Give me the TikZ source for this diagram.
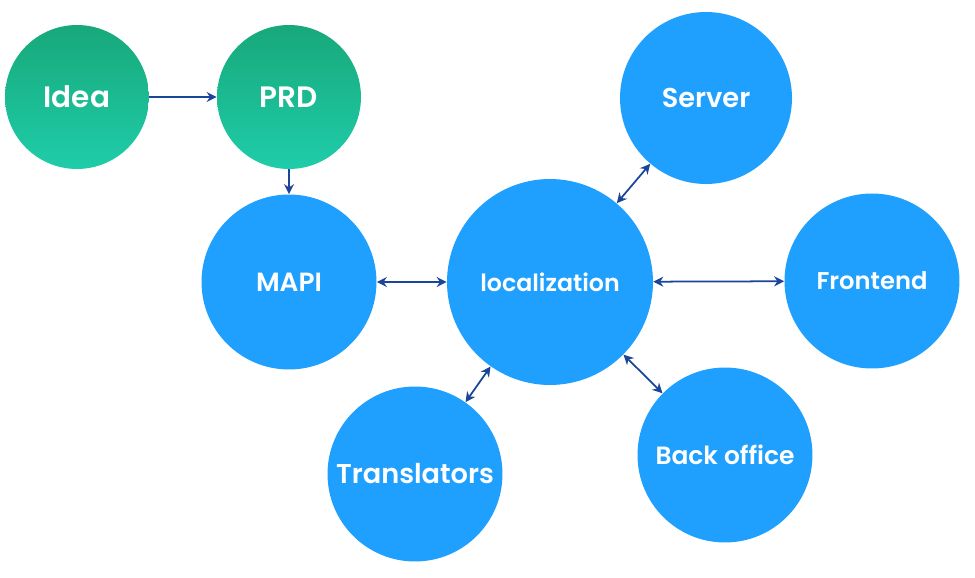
\documentclass[tikz,border=0pt]{standalone}
\usepackage{fontspec}
\setmainfont{Poppins}[BoldFont={Poppins SemiBold}]
\usetikzlibrary{arrows.meta}

\definecolor{nodeblue}{HTML}{1FA0FF}
\definecolor{greentop}{HTML}{17A87A}
\definecolor{greenbot}{HTML}{1FCDA9}
\definecolor{linkblue}{HTML}{1B4598}

\begin{document}
\begin{tikzpicture}[
  x=0.02cm, y=-0.02cm,
  every node/.style={text=white, font=\bfseries},
  idea/.style={circle, top color=greentop, bottom color=greenbot, minimum size=2.88cm, font=\bfseries\fontsize{16.8}{20}\selectfont},
  part/.style={circle, fill=nodeblue, minimum size=3.5cm, font=\bfseries\fontsize{15}{18}\selectfont},
  arrow/.style={-{Stealth[width=2mm,length=2mm]}, line width=1pt, draw=linkblue},
  link/.style={{Stealth[width=2mm,length=2mm]}-{Stealth[width=2mm,length=2mm]}, line width=1pt, draw=linkblue}
]
\useasboundingbox (0,0) rectangle (975,578);

% Idea and spec
\node[idea] (idea) at (77,97) {Idea};
\node[idea] (prd) at (289,97) {PRD};

% Parts around localization
\node[part] (mapi) at (289,282) {MAPI};
\node[part, minimum size=4.12cm, font=\bfseries\fontsize{13.5}{16}\selectfont] (loc) at (550,282) {localization};
\node[part, minimum size=3.44cm, font=\bfseries\fontsize{15.5}{18}\selectfont] (server) at (706,98) {Server};
\node[part, font=\bfseries\fontsize{13.8}{16}\selectfont] (front) at (872,281) {Frontend};
\node[part, font=\bfseries\fontsize{14.2}{17}\selectfont] (back) at (725,455) {Back office};
\node[part, font=\bfseries\fontsize{15.5}{18}\selectfont] (trans) at (415,474) {Translators};

% Arrows
\draw[arrow] (idea) -- (prd);
\draw[arrow] (prd) -- (mapi);
\draw[link] (mapi) -- (loc);
\draw[link] (loc) -- (front);
\draw[link] (loc) -- (server);
\draw[link] (loc) -- (back);
\draw[link] (loc) -- (trans);
\end{tikzpicture}
\end{document}
